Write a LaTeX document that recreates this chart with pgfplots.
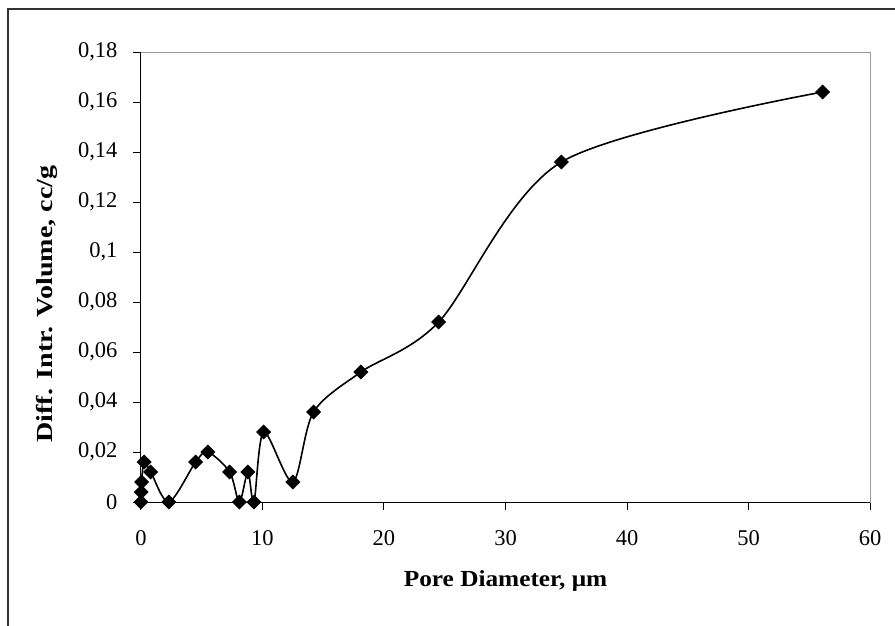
\documentclass[border=0pt]{standalone}
\usepackage{fontspec}
\setmainfont{Liberation Serif}
\usepackage{pgfplots}
\pgfplotsset{compat=1.18}
\begin{document}
\begin{tikzpicture}
\useasboundingbox (-141pt,-123pt) rectangle (754pt,502pt);
\draw[line width=1.2pt, color=black!80] (-133pt,-130pt) -- (-133pt,493pt) -- (760pt,493pt);
\begin{axis}[
  at={(0pt,0pt)}, anchor=south west,
  scale only axis, width=729pt, height=450pt,
  xmin=0, xmax=60, ymin=0, ymax=0.18,
  xtick={0,10,20,30,40,50,60},
  xticklabels={0,10,20,30,40,50,60},
  ytick={0,0.02,0.04,0.06,0.08,0.1,0.12,0.14,0.16,0.18},
  yticklabels={0,{0,02},{0,04},{0,06},{0,08},{0,1},{0,12},{0,14},{0,16},{0,18}},
  /pgf/number format/assume math mode=true,
  tick align=outside, xtick pos=bottom, ytick pos=left,
  major tick length=8pt,
  every tick/.style={black, line width=1pt},
  axis line style={gray!80, line width=1pt},
  ticklabel style={font=\fontsize{22.5}{26}\selectfont},
  yticklabel style={xshift=-12pt},
  xticklabel style={yshift=-17pt},
  xlabel={\scalebox{1.1}[1]{Pore Diameter, μm}},
  ylabel={\scalebox{1.22}[1]{Diff. Intr. Volume, cc/g}},
  label style={font=\bfseries\fontsize{23}{27}\selectfont},
  xlabel style={at={(axis description cs:0.5,-0.1756)}, anchor=center},
  ylabel style={at={(axis description cs:-0.129,0.44)}, anchor=center},
  clip mode=individual,
]
\addplot[black, line width=1.6pt, smooth, tension=0.5, mark=square*, mark size=4.5pt,
  mark options={rotate=45, fill=black, solid}] coordinates {
  (0,0) (0.02,0.004) (0.05,0.008) (0.25,0.016) (0.8,0.012) (2.3,0)
  (4.5,0.016) (5.5,0.02) (7.3,0.012) (8.1,0) (8.8,0.012) (9.3,0)
  (10.1,0.028) (12.5,0.008) (14.2,0.036) (18.1,0.052) (24.5,0.072)
  (34.6,0.136) (56.1,0.164)
};
\draw[black, line width=1pt] (rel axis cs:0,1) -- (rel axis cs:0,0) -- (rel axis cs:1,0);
\end{axis}
\end{tikzpicture}
\end{document}
